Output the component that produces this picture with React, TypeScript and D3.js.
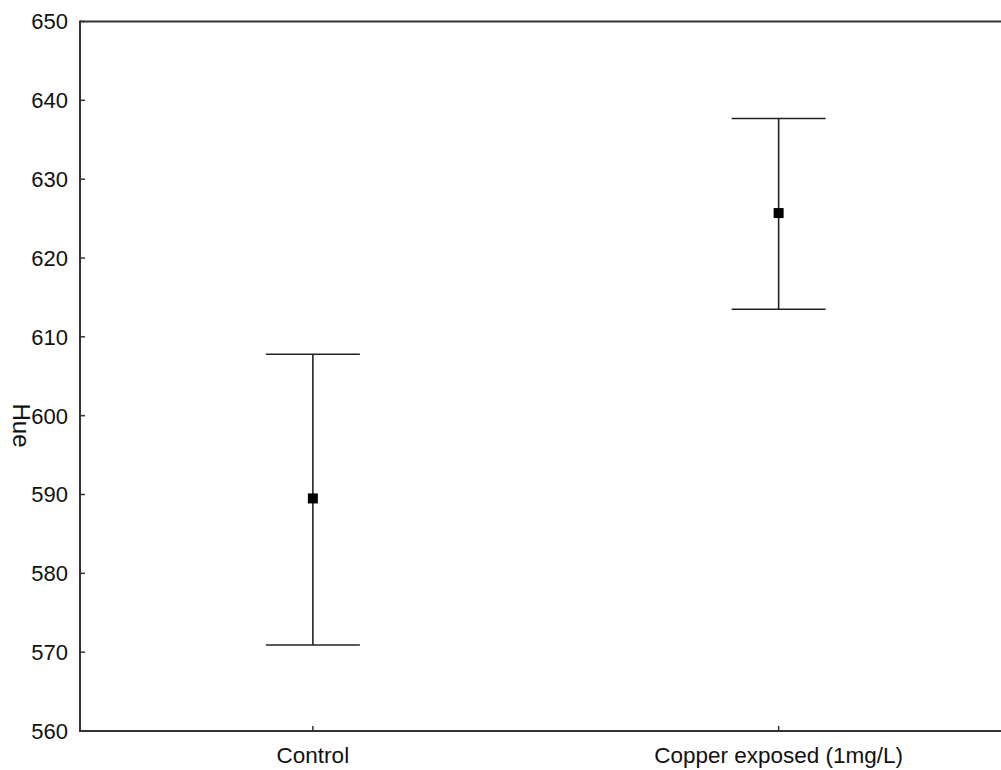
import React from "react";
import * as d3 from "d3";

const categories = ["Control", "Copper exposed (1mg/L)"];
const means = [589.5, 625.7];
const upper = [607.8, 637.7];
const lower = [570.9, 613.5];
const yTicks = [560, 570, 580, 590, 600, 610, 620, 630, 640, 650];
const yLabel = "Hue";

export default function App() {
  const W = 1001, H = 770;
  const left = 80, top = 21.5, bottom = 731, rightExt = 1011.5;
  const y = d3.scaleLinear().domain([560, 650]).range([bottom, top]);
  const x = d3.scalePoint<string>().domain(categories).range([left, rightExt]).padding(0.5);
  const font = "'Liberation Sans', Arial, sans-serif";
  const capW = 47;
  return (
    <svg width={W} height={H} style={{ position: "absolute", left: 0, top: 0, background: "#fff" }} fontFamily={font}>
      {/* axes */}
      <line x1={left} x2={W} y1={top} y2={top} stroke="#333" strokeWidth={2} />
      <line x1={left} x2={W} y1={bottom} y2={bottom} stroke="#333" strokeWidth={2} />
      <line x1={left} x2={left} y1={top - 1} y2={bottom + 1} stroke="#333" strokeWidth={2} />
      {yTicks.map((t) => (
        <g key={t}>
          <line x1={left} x2={left + 5} y1={y(t)} y2={y(t)} stroke="#333" strokeWidth={1.5} />
          <text x={68} y={y(t)} dy="0.36em" textAnchor="end" fontSize={22} fill="#111">{t}</text>
        </g>
      ))}
      {categories.map((c) => (
        <g key={c}>
          <line x1={x(c)!} x2={x(c)!} y1={bottom} y2={bottom - 5} stroke="#333" strokeWidth={1.5} />
          <text x={x(c)!} y={763} textAnchor="middle" fontSize={22.5} fill="#111">{c}</text>
        </g>
      ))}
      <text transform={`translate(13,425.5) rotate(90)`} textAnchor="middle" fontSize={24} fill="#111">{yLabel}</text>
      {/* error bars */}
      {categories.map((c, i) => {
        const cx = x(c)!;
        return (
          <g key={"e" + c} stroke="#222" strokeWidth={1.6}>
            <line x1={cx} x2={cx} y1={y(upper[i])} y2={y(lower[i])} />
            <line x1={cx - capW} x2={cx + capW} y1={y(upper[i])} y2={y(upper[i])} />
            <line x1={cx - capW} x2={cx + capW} y1={y(lower[i])} y2={y(lower[i])} />
            <rect x={cx - 5} y={y(means[i]) - 5} width={10} height={10} fill="#000" stroke="none" />
          </g>
        );
      })}
    </svg>
  );
}
